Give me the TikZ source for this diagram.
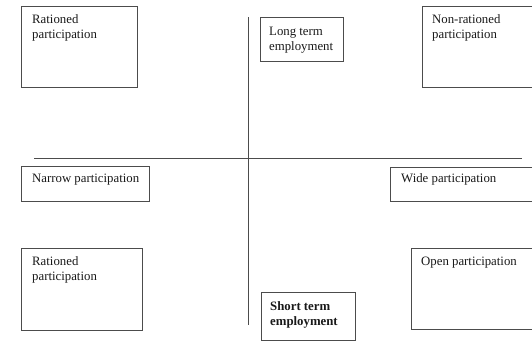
\documentclass[tikz,border=0pt]{standalone}
\usepackage{fontspec}
\setmainfont{Liberation Serif}
\usetikzlibrary{positioning}
\tikzset{
  box/.style = {
      rectangle,
      draw=black!70,
      line width=1pt,
      anchor=north west,
      inner sep=0pt, outer sep=0pt,
    },
  txt/.style = {
      align=left,
      inner sep=0pt,
      text=black!90,
      font=\fontsize{12.8}{15}\selectfont,
    },
  txtb/.style = {
      txt,
      font=\fontsize{12.8}{15}\selectfont\bfseries,
    },
  axis/.style = {
      draw=black!70,
      line width=1pt,
    },
}

\begin{document}
\begin{tikzpicture}[x=1pt, y=-1pt]
    \clip (0,0) rectangle (532,341);
    \fill[white] (0,0) rectangle (532,341);

    % axes
    \coordinate (vtop) at (248,17);  \coordinate (vbot) at (248,325);
    \coordinate (hleft) at (34,158); \coordinate (hright) at (522,158);
    \draw[axis] (vtop) -- (vbot);
    \draw[axis] (hleft) -- (hright);

    % upper row
    \node[box, minimum width=116, minimum height=81] (ratup) at (21,6) {};
    \node[txt, below right=8.5pt and 11pt of ratup.north west] (ratupt) {Rationed\\participation};
    \node[box, minimum width=83, minimum height=44] (longt) at (260,17) {};
    \node[txt, below right=9.5pt and 9pt of longt.north west] (longtt) {Long term\\employment};
    \node[box, minimum width=120, minimum height=81] (nonrat) at (422,6) {};
    \node[txt, below right=8.5pt and 10pt of nonrat.north west] (nonratt) {Non-rationed\\participation};

    % middle row
    \node[box, minimum width=128, minimum height=35] (narrow) at (21,166) {};
    \node[txt, below right=7.5pt and 11pt of narrow.north west] (narrowt) {Narrow participation};
    \node[box, minimum width=150, minimum height=34] (wide) at (390,167) {};
    \node[txt, below right=6.5pt and 11pt of wide.north west] (widet) {Wide participation};

    % lower row
    \node[box, minimum width=121, minimum height=82] (ratlow) at (21,248) {};
    \node[txt, below right=8.5pt and 11pt of ratlow.north west] (ratlowt) {Rationed\\participation};
    \node[box, minimum width=94, minimum height=48] (shortt) at (261,292) {};
    \node[txtb, below right=9.5pt and 9pt of shortt.north west] (shorttt) {Short term\\employment};
    \node[box, minimum width=130, minimum height=81] (open) at (411,248) {};
    \node[txt, below right=8.5pt and 10pt of open.north west] (opent) {Open participation};
  \end{tikzpicture}
\end{document}
